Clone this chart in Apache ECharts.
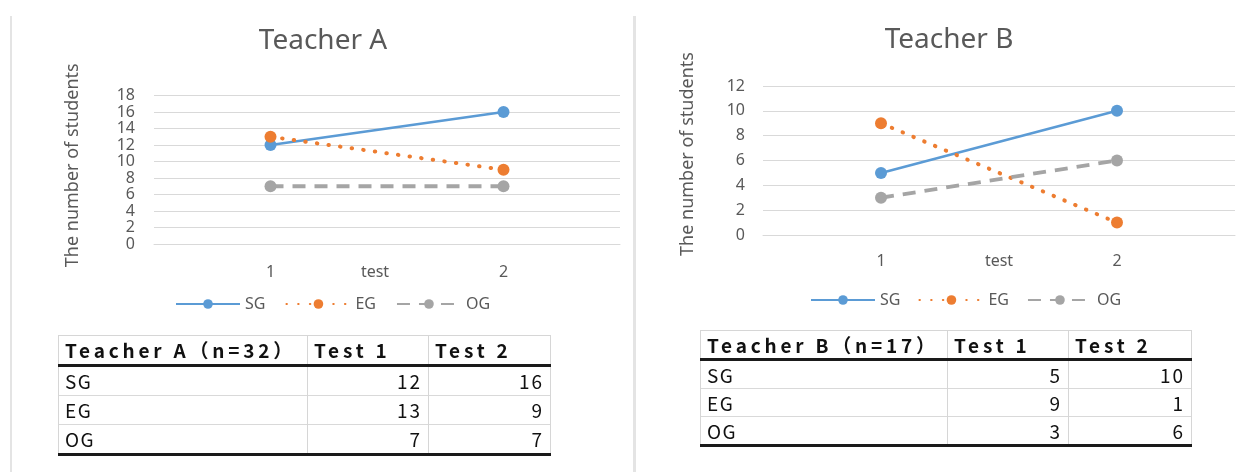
<!DOCTYPE html>
<html>
<head>
<meta charset="utf-8">
<script src="https://cdn.jsdelivr.net/npm/echarts@6/dist/echarts.min.js"></script>
<style>
  html, body { margin: 0; padding: 0; background: #fff; }
  #page { position: relative; width: 1252px; height: 472px; overflow: hidden; background: #fff; }
  #chart { position: absolute; left: 0; top: 0; width: 1252px; height: 472px; }
  .rule { position: absolute; top: 16px; bottom: 0; background: #e4e4e4; }
  table.score {
    position: absolute; border-collapse: collapse; table-layout: fixed;
    font-family: "Noto Sans CJK JP", "Noto Sans", sans-serif; color: #111;
  }
  table.score td, table.score th { padding: 0 6px; white-space: nowrap; overflow: hidden; }
  table.score th {
    font-weight: bold; font-size: 19px; letter-spacing: 3.8px; text-align: left;
    border: 1px solid #d6d6d6; border-bottom: 3px solid #1a1a1a;
  }
  table.score td { font-size: 19px; letter-spacing: 1.5px; border-left: 1px solid #d6d6d6; border-right: 1px solid #d6d6d6; border-top: 1px solid #d9d9d9; }
  table.score td.num { text-align: right; letter-spacing: 2px; padding-right: 6px; }
  table.score tr:last-child td { border-bottom: 3px solid #1a1a1a; }
  #tableA td, #tableA th { height: 28px; line-height: 28px; }
  #tableB td, #tableB th { height: 27px; line-height: 27px; }
</style>
</head>
<body>
<div id="page">
  <div class="rule" style="left:10px;width:2px;"></div>
  <div class="rule" style="left:633px;width:3px;"></div>
  <div id="chart"></div>
  <table class="score" id="tableA" style="left:58px;top:335px;width:492px;">
    <colgroup><col style="width:249px"><col style="width:121px"><col style="width:122px"></colgroup>
  </table>
  <table class="score" id="tableB" style="left:700px;top:330px;width:491px;">
    <colgroup><col style="width:247px"><col style="width:121px"><col style="width:123px"></colgroup>
  </table>
</div>
<script>
// Test numbers on the category axis
const testLabels = ['1', '2'];
// Student groups
const groupNames = ['SG', 'EG', 'OG'];

// Teacher A (n=32): students per group at test 1 and test 2
const teacherA_SG = [12, 16];
const teacherA_EG = [13, 9];
const teacherA_OG = [7, 7];

// Teacher B (n=17)
const teacherB_SG = [5, 10];
const teacherB_EG = [9, 1];
const teacherB_OG = [3, 6];

// Value-axis ranges
const yMaxA = 18;
const yMaxB = 12;
const yStep = 2;

// Table headings
const tableTitleA = 'Teacher A（n=32）';
const tableTitleB = 'Teacher B（n=17）';
const testHeads = ['Test 1', 'Test 2'];

const textGray = '#595959';
const gridGray = '#d9d9d9';
const font = 'Noto Sans';

const lineStyles = {
  SG: { color: '#5b9bd5', width: 2.5, type: 'solid' },
  EG: { color: '#ed7d31', width: 4, type: [0.5, 11.2], cap: 'round' },
  OG: { color: '#a5a5a5', width: 3.8, type: [13, 9] }
};

function makeSeries(name, data, gridIdx) {
  const ls = lineStyles[name];
  return {
    name: name,
    type: 'line',
    xAxisIndex: gridIdx,
    yAxisIndex: gridIdx,
    data: data,
    symbol: 'circle',
    symbolSize: 12,
    itemStyle: { color: ls.color },
    lineStyle: { color: ls.color, width: ls.width, type: ls.type, cap: ls.cap || 'butt' },
    emphasis: { disabled: true },
    animation: false
  };
}

function xAxisFor(gridIdx, nameShift, nameGap) {
  return {
    type: 'category',
    gridIndex: gridIdx,
    data: testLabels,
    boundaryGap: true,
    axisLine: { show: true, lineStyle: { color: gridGray, width: 1 } },
    axisTick: { show: false },
    axisLabel: { color: textGray, fontSize: 16, fontFamily: font, margin: nameGap },
    name: 'test',
    nameLocation: 'middle',
    nameGap: nameGap,
    nameMoveOverlap: false,
    nameTextStyle: { color: textGray, fontSize: 16, fontFamily: font, padding: [0, nameShift, 0, 0] }
  };
}

function yAxisFor(gridIdx, max, nameGap, labelMargin, lift) {
  return {
    type: 'value',
    gridIndex: gridIdx,
    min: 0,
    max: max,
    interval: yStep,
    axisLine: { show: false },
    axisTick: { show: false },
    splitLine: { lineStyle: { color: gridGray, width: 1 } },
    axisLabel: { color: textGray, fontSize: 16, fontFamily: font, margin: labelMargin },
    name: 'The number of students',
    nameLocation: 'middle',
    nameRotate: 90,
    nameGap: nameGap,
    nameMoveOverlap: false,
    nameTextStyle: { color: textGray, fontSize: 18, fontFamily: font, padding: [0, 0, 0, lift] }
  };
}

function legendFor(left, top, gap) {
  return {
    left: left,
    top: top,
    orient: 'horizontal',
    itemWidth: 64,
    itemHeight: 12,
    itemGap: gap,
    padding: 0,
    data: groupNames,
    selectedMode: false,
    textStyle: { color: textGray, fontSize: 16, fontFamily: font }
  };
}

const chart = echarts.init(document.getElementById('chart'), null, { renderer: 'canvas' });
chart.setOption({
  backgroundColor: 'transparent',
  animation: false,
  title: [
    { text: 'Teacher A', left: 323, top: 27, textAlign: 'center', padding: 0,
      textStyle: { color: textGray, fontSize: 28, fontWeight: 'normal', fontFamily: font } },
    { text: 'Teacher B', left: 949, top: 26, textAlign: 'center', padding: 0,
      textStyle: { color: textGray, fontSize: 28, fontWeight: 'normal', fontFamily: font } }
  ],
  legend: [legendFor(175, 296, 20), legendFor(810, 292, 18)],
  grid: [
    { left: 154, right: 632, top: 95.5, bottom: 228, outerBoundsMode: 'none' },
    { left: 763, right: 17, top: 86, bottom: 237, outerBoundsMode: 'none' }
  ],
  xAxis: [xAxisFor(0, 24, 20), xAxisFor(1, 0, 18)],
  yAxis: [yAxisFor(0, yMaxA, 72, 19, 9), yAxisFor(1, yMaxB, 66, 18, 13)],
  series: [
    makeSeries('SG', teacherA_SG, 0),
    makeSeries('EG', teacherA_EG, 0),
    makeSeries('OG', teacherA_OG, 0),
    makeSeries('SG', teacherB_SG, 1),
    makeSeries('EG', teacherB_EG, 1),
    makeSeries('OG', teacherB_OG, 1)
  ]
});

// Summary tables under each chart, built from the same arrays
function fillTable(id, title, rows) {
  const table = document.getElementById(id);
  const head = document.createElement('tr');
  [title].concat(testHeads).forEach(function (t) {
    const th = document.createElement('th');
    th.textContent = t;
    head.appendChild(th);
  });
  table.appendChild(head);
  rows.forEach(function (r) {
    const tr = document.createElement('tr');
    const c0 = document.createElement('td');
    c0.textContent = r.name;
    tr.appendChild(c0);
    r.values.forEach(function (v) {
      const td = document.createElement('td');
      td.className = 'num';
      td.textContent = String(v);
      tr.appendChild(td);
    });
    table.appendChild(tr);
  });
}

fillTable('tableA', tableTitleA, [
  { name: groupNames[0], values: teacherA_SG },
  { name: groupNames[1], values: teacherA_EG },
  { name: groupNames[2], values: teacherA_OG }
]);
fillTable('tableB', tableTitleB, [
  { name: groupNames[0], values: teacherB_SG },
  { name: groupNames[1], values: teacherB_EG },
  { name: groupNames[2], values: teacherB_OG }
]);
</script>
</body>
</html>
